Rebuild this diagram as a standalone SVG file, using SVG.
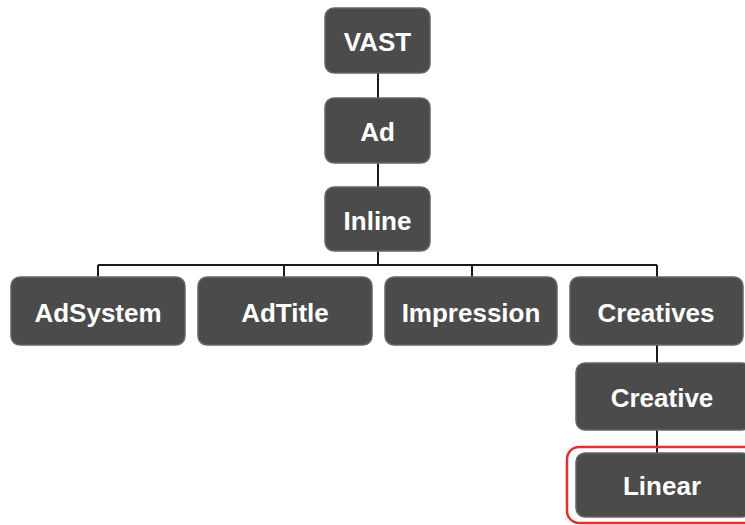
<svg xmlns="http://www.w3.org/2000/svg" width="745" height="525" viewBox="0 0 745 525">
<style>
.box{fill:#4b4b4b;stroke:#666666;stroke-width:1.5}
.lbl{fill:#ffffff;font-family:"Liberation Sans",Arial,sans-serif;font-weight:bold;font-size:26px;text-anchor:middle;dominant-baseline:central}
.con{stroke:#1a1a1a;stroke-width:2;fill:none}
</style>
<rect width="745" height="525" fill="#ffffff"/>
<g id="connectors">
<path class="con" d="M378,73 V98 M378,163 V187 M378,251 V265 M98,265 H657 M98,265 V277 M284,265 V277 M472,265 V277 M657,265 V277 M657,345 V363 M657,430 V453"/>
</g>
<g id="vast"><rect class="box" x="325" y="8" width="105" height="65" rx="9"/><text class="lbl" x="377.5" y="42">VAST</text></g>
<g id="ad"><rect class="box" x="325" y="98" width="105" height="65" rx="9"/><text class="lbl" x="377.5" y="132">Ad</text></g>
<g id="inline"><rect class="box" x="325" y="187" width="105" height="64" rx="9"/><text class="lbl" x="377.5" y="221">Inline</text></g>
<g id="adsystem"><rect class="box" x="11" y="277" width="174" height="68" rx="9"/><text class="lbl" x="98" y="313">AdSystem</text></g>
<g id="adtitle"><rect class="box" x="198" y="277" width="174" height="68" rx="9"/><text class="lbl" x="285" y="313">AdTitle</text></g>
<g id="impression"><rect class="box" x="385" y="277" width="172" height="68" rx="9"/><text class="lbl" x="471" y="313">Impression</text></g>
<g id="creatives"><rect class="box" x="570" y="277" width="173" height="68" rx="9"/><text class="lbl" x="656" y="313">Creatives</text></g>
<g id="creative"><rect class="box" x="576" y="363" width="175" height="67" rx="9"/><text class="lbl" x="662" y="398">Creative</text></g>
<g id="linear"><rect x="567" y="447" width="190" height="76" rx="12" fill="none" stroke="#e03030" stroke-width="2.5"/><rect class="box" x="576" y="453" width="175" height="64" rx="9"/><text class="lbl" x="662" y="486">Linear</text></g>
</svg>
